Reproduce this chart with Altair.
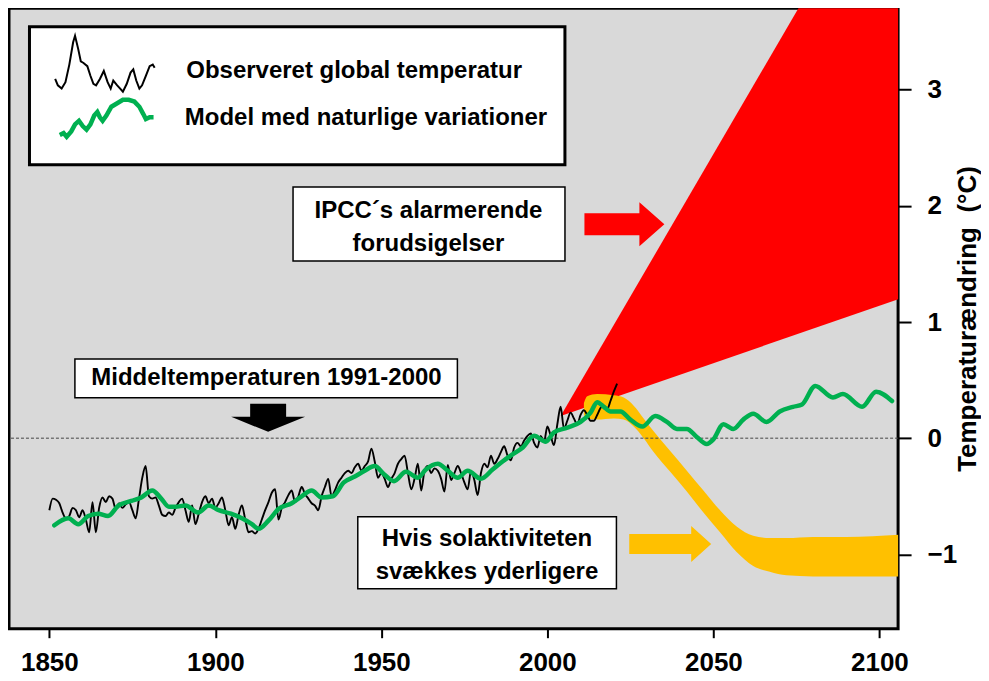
import altair as alt
import pandas as pd

# ---------------- data ----------------
obs_years = list(range(1850, 2022))
obs_vals = [
    -0.62, -0.52, -0.53, -0.56, -0.64, -0.69, -0.67, -0.60, -0.62, -0.68,   # 1850s
    -0.62, -0.70, -0.81, -0.55, -0.81, -0.60, -0.51, -0.55, -0.50, -0.52,   # 1860s
    -0.61, -0.56, -0.60, -0.57, -0.55, -0.62, -0.69, -0.52, -0.34, -0.24,   # 1870s
    -0.50, -0.52, -0.51, -0.58, -0.66, -0.67, -0.64, -0.66, -0.60, -0.55,   # 1880s
    -0.52, -0.62, -0.72, -0.58, -0.74, -0.65, -0.55, -0.50, -0.56, -0.52,   # 1890s
    -0.60, -0.56, -0.51, -0.62, -0.75, -0.68, -0.78, -0.66, -0.58, -0.70,   # 1900s
    -0.81, -0.80, -0.82, -0.78, -0.70, -0.62, -0.55, -0.47, -0.44, -0.70,   # 1910s
    -0.60, -0.55, -0.49, -0.45, -0.55, -0.50, -0.42, -0.48, -0.52, -0.56,   # 1920s
    -0.58, -0.62, -0.50, -0.42, -0.35, -0.50, -0.45, -0.38, -0.34, -0.30,   # 1930s
    -0.28, -0.30, -0.25, -0.22, -0.28, -0.24, -0.20, -0.09, -0.20, -0.34,   # 1940s
    -0.30, -0.35, -0.42, -0.35, -0.30, -0.22, -0.18, -0.15, -0.30, -0.44,   # 1950s
    -0.35, -0.22, -0.45, -0.28, -0.24, -0.30, -0.26, -0.28, -0.35, -0.46,   # 1960s
    -0.23, -0.36, -0.30, -0.24, -0.30, -0.38, -0.44, -0.28, -0.36, -0.49,   # 1970s
    -0.30, -0.22, -0.25, -0.15, -0.22, -0.18, -0.12, -0.07, -0.15, -0.19,   # 1980s
    -0.08, -0.04, -0.07, -0.02, 0.02, 0.04, -0.04, -0.08, 0.02, -0.03,      # 1990s
    0.10, 0.02, -0.06, 0.12, 0.27, 0.08, 0.15, 0.22, 0.17, 0.12,            # 2000s
    0.20, 0.24, 0.20, 0.15, 0.15, 0.20, 0.26, 0.28, 0.25, 0.32,             # 2010s
    0.40, 0.47,                                                             # 2020s
]

model_years = [
    1851.5, 1855.7, 1858.7, 1861.7, 1864.7, 1867.7, 1870.8, 1874.7, 1877.7, 1881,
    1883.7, 1886, 1888, 1891, 1894.8, 1898, 1901, 1904.7, 1908, 1911,
    1913, 1916, 1919, 1923, 1926, 1929, 1932, 1935.4, 1938.7, 1942,
    1945, 1948, 1950.8, 1953.8, 1957.4, 1961, 1963.4, 1967, 1970, 1973,
    1976, 1980, 1983.5, 1986.5, 1989.5, 1992.6, 1996, 1999.5, 2002, 2006,
    2010, 2013, 2015, 2017, 2019, 2022, 2025, 2028.6, 2032.5, 2036,
    2039, 2042, 2045, 2048, 2050, 2053, 2056, 2059, 2062, 2066,
    2070, 2074, 2076.7, 2080.7, 2086, 2089, 2094.8, 2099, 2103.8,
]
model_vals = [
    -0.75, -0.69, -0.74, -0.67, -0.65, -0.67, -0.58, -0.54, -0.51, -0.45,
    -0.52, -0.59, -0.59, -0.58, -0.64, -0.58, -0.62, -0.65, -0.69, -0.74,
    -0.78, -0.71, -0.61, -0.56, -0.50, -0.45, -0.51, -0.50, -0.38, -0.33,
    -0.28, -0.24, -0.31, -0.37, -0.29, -0.34, -0.27, -0.22, -0.28, -0.34,
    -0.28, -0.35, -0.27, -0.20, -0.14, -0.08, 0.02, -0.03, 0.05, 0.09,
    0.14, 0.22, 0.31, 0.27, 0.23, 0.23, 0.16, 0.10, 0.19, 0.14,
    0.08, 0.08, 0.01, -0.05, -0.01, 0.12, 0.08, 0.16, 0.21, 0.14,
    0.23, 0.27, 0.29, 0.45, 0.35, 0.38, 0.27, 0.40, 0.32,
]

ipcc_years = [2004, 2106]
ipcc_low = [0.19, 1.20]
ipcc_high = [0.19, 5.19]

sun_years = [2011, 2012, 2015, 2020, 2023, 2026, 2029, 2032, 2037, 2042,
             2047, 2052, 2057, 2062, 2067, 2072, 2080, 2090, 2106]
sun_high = [0.30, 0.36, 0.38, 0.37, 0.35, 0.28, 0.17, 0.06, -0.11, -0.28,
            -0.45, -0.62, -0.76, -0.84, -0.86, -0.86, -0.85, -0.85, -0.83]
sun_low = [0.20, 0.17, 0.16, 0.17, 0.16, 0.10, 0.00, -0.12, -0.29, -0.46,
           -0.64, -0.81, -0.98, -1.10, -1.15, -1.18, -1.19, -1.19, -1.19]

series_names = ["Observeret global temperatur", "Model med naturlige variationer"]
x_ticks = [1850, 1900, 1950, 2000, 2050, 2100]
y_ticks = [-1, 0, 1, 2, 3]

# ---------------- styling ----------------
FONT = "Liberation Sans"
BLACK = "#000000"
GREEN = "#00b050"
RED = "#ff0000"
GOLD = "#ffc000"

xs = alt.Scale(domain=[1837.85, 2105.63], nice=False, zero=False)
ys = alt.Scale(domain=[-1.64, 3.70], nice=False, zero=False)
xax = alt.Axis(values=x_ticks, format="d", title=None, grid=False, domain=False,
               labelFont=FONT, labelFontWeight="bold", labelFontSize=26, labelColor=BLACK,
               tickColor=BLACK, tickWidth=2, tickSize=9, labelPadding=12, labelFlush=False)
yax = alt.Axis(values=y_ticks, format="d", orient="right", grid=False, domain=False,
               title="Temperaturændring\u00a0 (°C)", titleAngle=270, titleFont=FONT,
               titleFontWeight="bold", titleFontSize=26, titleColor=BLACK, titlePadding=24,
               labelFont=FONT, labelFontWeight="bold", labelFontSize=26, labelColor=BLACK,
               tickColor=BLACK, tickWidth=2, tickSize=13, labelPadding=16, labelFlush=False)


def X(f):
    return alt.X(f, type="quantitative", scale=xs, axis=xax)


def Y(f):
    return alt.Y(f, type="quantitative", scale=ys, axis=yax)


obs_df = pd.DataFrame({"year": obs_years, "temp": obs_vals})
model_df = pd.DataFrame({"year": model_years, "temp": model_vals})
ipcc_df = pd.DataFrame({"year": ipcc_years, "lo": ipcc_low, "hi": ipcc_high})
sun_df = pd.DataFrame({"year": sun_years, "lo": sun_low, "hi": sun_high})

red_band = alt.Chart(ipcc_df).mark_area(color=RED, clip=True).encode(
    x=X("year"), y=Y("hi"), y2="lo")
sun_band = alt.Chart(sun_df).mark_area(color=GOLD, clip=True, interpolate="monotone").encode(
    x=X("year"), y=Y("hi"), y2="lo")
zero_line = alt.Chart(pd.DataFrame({"v": [0]})).mark_rule(
    color="#444444", strokeWidth=1, strokeDash=[3, 2]).encode(y=Y("v"))
obs_line = alt.Chart(obs_df).mark_line(color=BLACK, strokeWidth=1.9, interpolate="monotone").encode(
    x=X("year"), y=Y("temp"))
model_line = alt.Chart(model_df).mark_line(
    color=GREEN, strokeWidth=4.5, interpolate="monotone", strokeCap="round", strokeJoin="round").encode(
    x=X("year"), y=Y("temp"))

# annotation boxes (data coordinates)
boxes = pd.DataFrame({
    "x1": [1857.7, 1923.4, 1942.9],
    "x2": [1972.9, 2005.3, 2020.8],
    "y1": [0.347, 1.525, -1.297],
    "y2": [0.682, 2.162, -0.677],
})
box_layer = alt.Chart(boxes).mark_rect(fill="white", stroke=BLACK, strokeWidth=1.5).encode(
    x=X("x1"), x2="x2", y=Y("y1"), y2="y2")

# anchor = first text line
texts = pd.DataFrame({
    "x": [1915.4, 1964.2, 1981.8],
    "y": [0.514, 1.955, -0.865],
    "label": ["Middeltemperaturen 1991-2000", "IPCC´s alarmerende\nforudsigelser",
              "Hvis solaktiviteten\nsvækkes yderligere"],
})
text_layer = alt.Chart(texts).mark_text(
    font=FONT, fontWeight="bold", fontSize=24, lineHeight=33, align="center",
    baseline="middle", color=BLACK, lineBreak="\n").encode(
    x=X("x"), y=Y("y"), text="label:N")

# arrows (symbol paths, 1 unit = 1 px with size=4)
ARROW_RIGHT = "M-41,-10 L21,-10 L21,-18 L41,0 L21,18 L21,10 L-41,10 Z"
ARROW_RIGHT_RED = "M-40,-11 L15,-11 L15,-22 L40,0 L15,22 L15,11 L-40,11 Z"
ARROW_DOWN = "M-18,-14 L18,-14 L18,-1 L37,-1 L0,14 L-37,-1 L-18,-1 Z"
arrows = [
    (2023.2, 1.841, ARROW_RIGHT_RED, RED),
    (2037.0, -0.910, ARROW_RIGHT, GOLD),
    (1915.9, 0.175, ARROW_DOWN, BLACK),
]
arrow_layers = []
for ax_, ay_, path, col in arrows:
    arrow_layers.append(
        alt.Chart(pd.DataFrame({"x": [ax_], "y": [ay_]})).mark_point(
            shape=path, size=4, filled=True, color=col, opacity=1, strokeWidth=0).encode(
            x=X("x"), y=Y("y")))

# legend icons: squiggles in px relative to the symbol centre
UNIT = 34.0  # px per symbol-path unit (symbol size = (2*UNIT)^2)


def icon_path(points, extra_moves=()):
    s = " ".join(f"M{mx / UNIT:.3f},{my / UNIT:.3f}" for mx, my in extra_moves)
    s += " M" + " L".join(f"{px / UNIT:.3f},{py / UNIT:.3f}" for px, py in points)
    return s.strip()


black_icon_pts = [(-50.3, 8.2), (-47.6, 14.6), (-43.8, 17.8), (-40, 11.4), (-36.1, -6.2),
                  (-32.3, -28.6), (-30.4, -35), (-27.3, -22.2), (-24.6, -9.4), (-21.9, -7.8),
                  (-18.1, -4.6), (-15, 5), (-12, 13), (-9.3, 14.6), (-5.5, 8.2), (-1.6, 0.2),
                  (2.2, 11.4), (5.3, 17.8), (7.9, 9.8), (11.8, 14.6), (14.8, 17.8), (17.5, 21),
                  (21.4, 13), (25.2, 1.8), (27.9, -1.4), (30.9, 9.8), (34, 17.8), (36.7, 14.6),
                  (40.5, 5), (44.3, -4.6), (47.4, -6.2), (49.3, -3)]
green_icon_pts = [(-45.7, 17.2), (-41.9, 15.4), (-38.8, 19), (-34.2, 13.7), (-30.4, 6.6),
                  (-26.5, 3.1), (-22.7, 8.4), (-18.9, 11.9), (-15, 6.6), (-11.2, -2.2),
                  (-8.1, -5.7), (-5.5, -0.4), (-2.8, 3.1), (1, -2.2), (6, -11), (11.8, -14.5),
                  (17.5, -18), (23.3, -18), (29, -16.2), (34, -11), (37.8, -3.9), (40.5, 1.4),
                  (44.3, -0.4), (48.2, -0.4)]
# the first legend carries the white frame; invisible moves stretch it to the frame size
BLACK_ICON = icon_path(black_icon_pts, extra_moves=[(446, 0), (0, 81)])
GREEN_ICON = icon_path(green_icon_pts)

SYM = (2 * UNIT) ** 2
label_style = dict(labelFont=FONT, labelFontWeight="bold", labelFontSize=24,
                   labelColor=BLACK, labelLimit=700, symbolSize=SYM, symbolOpacity=1,
                   symbolFillColor="transparent", title=None, orient="none")
legend_a = dict(legendX=20.5, legendY=18.5, fillColor="white", strokeColor=BLACK, padding=9,
                symbolStrokeWidth=2, symbolOffset=32, labelOffset=46, **label_style)
legend_b = dict(legendX=29.5, legendY=73, padding=0, symbolStrokeWidth=4.5,
                symbolOffset=30.5, labelOffset=43, **label_style)

legend_obs = alt.Chart(pd.DataFrame({"series": series_names[:1]})).transform_filter("false").mark_point(
    size=SYM, filled=False).encode(
    x=alt.value(0), y=alt.value(0),
    color=alt.Color("series:N", scale=alt.Scale(domain=series_names[:1], range=[BLACK]),
                    legend=alt.Legend(**legend_a)),
    shape=alt.Shape("series:N", scale=alt.Scale(domain=series_names[:1], range=[BLACK_ICON]),
                    legend=alt.Legend(**legend_a)),
)
legend_model = alt.Chart(pd.DataFrame({"series": series_names[1:]})).transform_filter("false").mark_point(
    size=SYM, filled=False).encode(
    x=alt.value(0), y=alt.value(0),
    color=alt.Color("series:N", scale=alt.Scale(domain=series_names[1:], range=[GREEN]),
                    legend=alt.Legend(**legend_b)),
    shape=alt.Shape("series:N", scale=alt.Scale(domain=series_names[1:], range=[GREEN_ICON]),
                    legend=alt.Legend(**legend_b)),
)

chart = alt.layer(
    red_band, sun_band, zero_line, obs_line, model_line,
    box_layer, text_layer, *arrow_layers, legend_obs, legend_model,
).resolve_scale(
    color="independent", shape="independent"
).resolve_legend(
    color="independent", shape="independent"
).properties(
    width=890, height=621, padding=0, background="white",
).configure_view(
    fill="#d9d9d9", stroke=BLACK, strokeWidth=3,
).configure_legend(strokeWidth=3)

chart.save("out.html", embed_options={"renderer": "svg", "actions": False})
